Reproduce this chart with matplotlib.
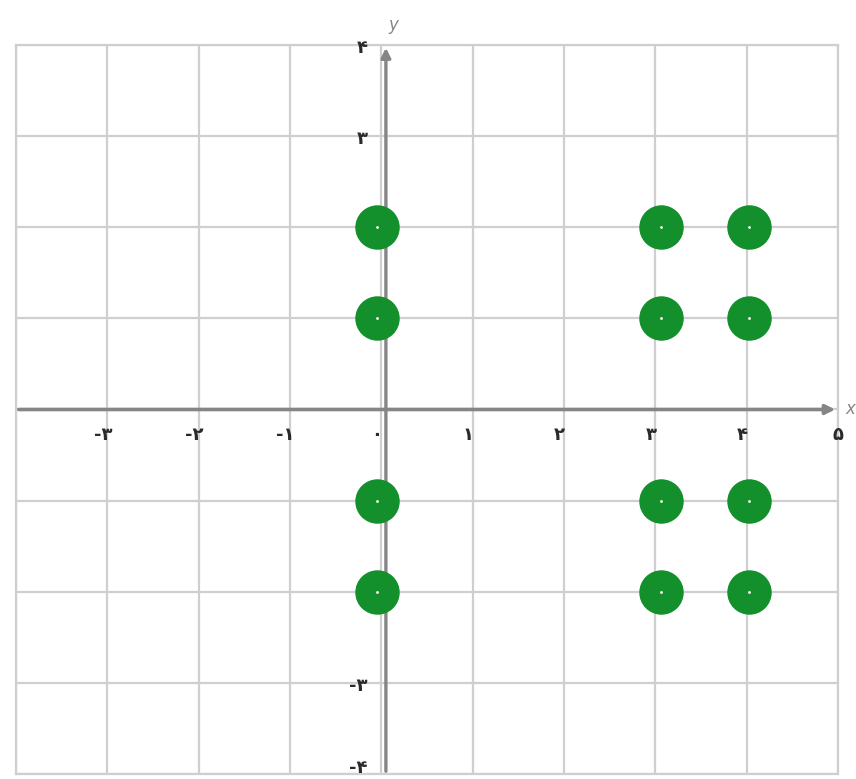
import matplotlib
matplotlib.use("Agg")
import matplotlib.pyplot as plt

# data
px = [-0.05, -0.05, -0.05, -0.05, 3.06, 4.03, 3.06, 4.03, 3.06, 4.03, 3.06, 4.03]
py = [2, 1, -1, -2, 2, 2, 1, 1, -1, -1, -2, -2]
xticks = [-3, -2, -1, 0, 1, 2, 3, 4, 5]
xtick_labels = ["-۳", "-۲", "-۱", "۰", "۱", "۲", "۳", "۴", "۵"]
yticks = [4, 3, -3, -4]
ytick_labels = ["۴", "۳", "-۳", "-۴"]

W, H = 856, 779
fig = plt.figure(figsize=(W / 100, H / 100), dpi=100)
left, right, top, bottom = 16, 838, 45, 774
ax = fig.add_axes([left / W, (H - bottom) / H, (right - left) / W, (bottom - top) / H])
ax.set_xlim(-4, 5)
ax.set_ylim(-4, 4)
ax.set_xticks(range(-4, 6))
ax.set_yticks(range(-4, 5))
ax.grid(True, color="#cfcfcf", linewidth=1.6)
ax.tick_params(length=0, labelbottom=False, labelleft=False)
for s in ax.spines.values():
    s.set_color("#cfcfcf")
    s.set_linewidth(1.6)
ax.set_axisbelow(True)

# axes with arrows
ax.annotate("", xy=(5.0, 0), xytext=(-4, 0),
            arrowprops=dict(arrowstyle="-|>", color="#858585", lw=2.6, mutation_scale=14),
            annotation_clip=False)
ax.annotate("", xy=(0.05, 4.0), xytext=(0.05, -4),
            arrowprops=dict(arrowstyle="-|>", color="#858585", lw=2.4, mutation_scale=14),
            annotation_clip=False)

ax.plot(px, py, "o", color="#138f2c", markersize=32, markeredgewidth=0, zorder=5)
ax.plot(px, py, "o", color="white", markersize=2, markeredgewidth=0, zorder=6)

fam = ["DejaVu Sans"]
for xv, lab in zip(xticks, xtick_labels):
    ax.text(xv - 0.05 if xv != 5 else xv, -0.28, lab, ha="center", va="center",
            fontsize=13, fontweight="bold", color="#2a2a2a", family=fam, clip_on=False)
for yv, lab in zip(yticks, ytick_labels):
    yy = yv + 0.07 if yv == -4 else yv - 0.03
    ax.text(-0.15, yy, lab, ha="right", va="center",
            fontsize=13, fontweight="bold", color="#2a2a2a", family=fam, clip_on=False)
ax.text(0.08, 4.12, "y", ha="left", va="bottom", fontsize=12, color="#888888",
        style="italic", clip_on=False)
ax.text(5.08, 0.0, "x", ha="left", va="center", fontsize=12, color="#888888",
        style="italic", clip_on=False)

fig.savefig("out.png", dpi=100)
